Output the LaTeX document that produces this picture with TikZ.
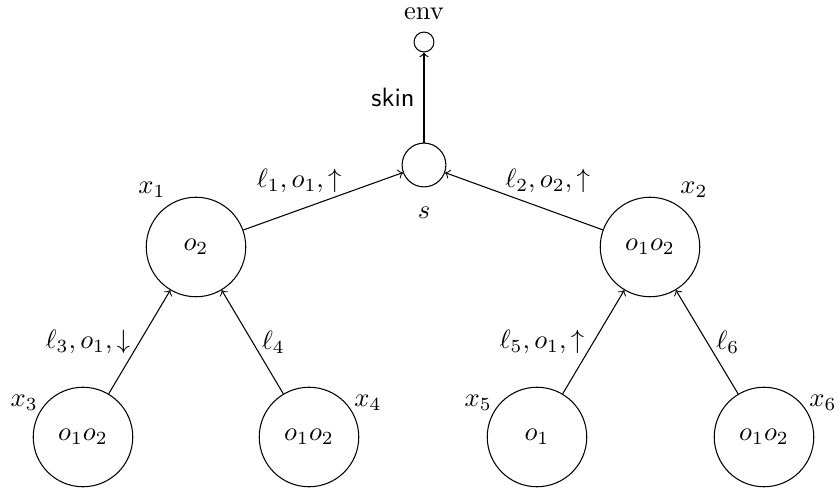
\documentclass[tikz,border=0pt]{standalone}
\usetikzlibrary{positioning}

\tikzset{
  agent/.style={draw,circle,minimum size=37.5pt,inner sep=0pt},
  sink/.style={draw,circle,minimum size=16.5pt,inner sep=0pt},
  tiny/.style={draw,circle,minimum size=7.5pt,inner sep=0pt},
  edge/.style={->}
}

\begin{document}
\begin{tikzpicture}[x=0.01325cm,y=-0.01325cm]
  \useasboundingbox (0,0) rectangle (839,489);

  % top
  \node[tiny,label={[label distance=1pt]above:env}] (env) at (424,42) {};
  \node[sink,label={[label distance=4pt]below:$s$}] (s) at (424,165) {};

  % middle layer
  \node[agent,label={[label distance=-2pt]118:$x_1$}] (x1) at (196,247) {$o_2$};
  \node[agent,label={[label distance=-2pt]62:$x_2$}] (x2) at (650,247) {$o_1o_2$};

  % leaves
  \node[agent,label={[label distance=-4pt]155:$x_3$}] (x3) at (83,437) {$o_1o_2$};
  \node[agent,label={[label distance=-4pt]25:$x_4$}] (x4) at (309,437) {$o_1o_2$};
  \node[agent,label={[label distance=-4pt]155:$x_5$}] (x5) at (537,437) {$o_1$};
  \node[agent,label={[label distance=-4pt]25:$x_6$}] (x6) at (764,437) {$o_1o_2$};

  \draw[edge] (s) -- node[left] {\sffamily skin} (env);
  \draw[edge] (x1) -- node[pos=0.35,above=3pt] {$\ell_1,o_1,\uparrow$} (s);
  \draw[edge] (x2) -- node[pos=0.35,above=3pt] {$\ell_2,o_2,\uparrow$} (s);
  \draw[edge] (x3) -- node[left] {$\ell_3,o_1,\downarrow$} (x1);
  \draw[edge] (x4) -- node[right] {$\ell_4$} (x1);
  \draw[edge] (x5) -- node[left] {$\ell_5,o_1,\uparrow$} (x2);
  \draw[edge] (x6) -- node[right] {$\ell_6$} (x2);
\end{tikzpicture}
\end{document}
